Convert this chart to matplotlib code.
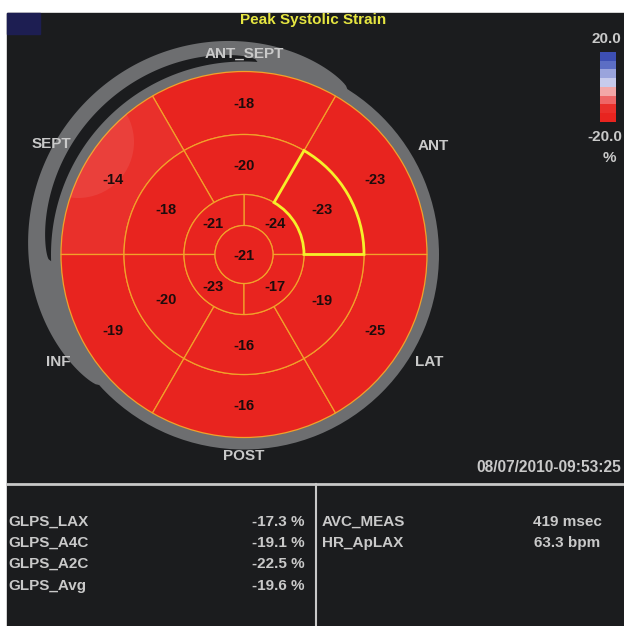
import numpy as np
import matplotlib.pyplot as plt
from matplotlib.patches import Wedge, Circle, Rectangle, Polygon
from matplotlib.colors import ListedColormap, BoundaryNorm

# peak systolic strain (%) per segment, segments counted ccw from 3 o'clock
basal = [-23, -18, -14, -19, -16, -25]
mid = [-23, -20, -18, -20, -16, -19]
apical = [-24, -21, -23, -17]
apex = -21
walls = ["ANT", "ANT_SEPT", "SEPT", "INF", "POST", "LAT"]

glps_names = ["GLPS_LAX", "GLPS_A4C", "GLPS_A2C", "GLPS_Avg"]
glps_values = [-17.3, -19.1, -22.5, -19.6]
meas_names = ["AVC_MEAS", "HR_ApLAX"]
meas_values = [419, 63.3]
meas_units = ["msec", "bpm"]

scale_colors = ["#e8241f", "#e9302b", "#ee6666", "#f3a7a7",
                "#c7cbec", "#9aa4dc", "#5c6ec4", "#3d4fb3"]
levels = np.arange(-20, 21, 5)

BG = "#1b1c1e"
GREY = "#6d6e70"
TXT = "#c9c9c9"
LINE = "#f2a12a"
FONT = "Liberation Sans"

cmap = ListedColormap(scale_colors)
norm = BoundaryNorm(levels, cmap.N, clip=True)

fig = plt.figure(figsize=(6.24, 6.26), dpi=100)
fig.patch.set_facecolor("white")
ax = fig.add_axes([0, 0, 1, 1])
ax.axis("off")

# dark screen area (white margin top / left)
ax.add_patch(Rectangle((7, 13), 700, 700, color=BG, zorder=0))
ax.add_patch(Rectangle((7, 13), 33, 21, color="#1d1e52", zorder=1))

cx, cy = 244, 254.5
r_apex, r_apical, r_mid, r_basal = 29, 60, 120, 183
r_ring = 195


def win(t, a, b, p=0.6):
    s = np.sin(np.pi * (t - a) / (b - a))
    s = np.where((t > a) & (t < b), np.clip(s, 0, 1), 0)
    return s ** p


def ring_poly(t, r_in, r_out, **kw):
    tr = np.radians(t)
    xo = cx + r_out * np.cos(tr)
    yo = cy - r_out * np.sin(tr)
    xi = cx + r_in * np.cos(tr[::-1])
    yi = cy - r_in * np.sin(tr[::-1])
    pts = np.column_stack([np.r_[xo, xi], np.r_[yo, yi]])
    return Polygon(pts, closed=True, **kw)


# grey outer rings (displaced double ring at upper left)
t = np.linspace(58, 222, 200)
ax.add_patch(ring_poly(t, r_basal, r_ring + 25 * win(t, 58, 222, 0.6), color=GREY, lw=0, zorder=2))
ax.add_patch(Wedge((cx, cy), r_ring, 0, 360, width=r_ring - r_basal + 2, color=GREY, lw=0, zorder=2))
t = np.linspace(86, 182, 150)
ax.add_patch(ring_poly(t, r_ring - 2, r_ring - 2 + 12 * win(t, 86, 182, 0.4), color=BG, lw=0, zorder=3))


def seg(vals, r_out, width, start, rmid):
    n = len(vals)
    step = 360 / n
    patches = []
    for i, v in enumerate(vals):
        a1 = start + i * step
        a2 = a1 + step
        w = Wedge((cx, cy), r_out, -a2, -a1, width=width, facecolor=cmap(norm(v)),
                  edgecolor=LINE, lw=0.9, zorder=4)
        ax.add_patch(w)
        patches.append(w)
        am = np.radians(a1 + step / 2)
        ax.text(cx + rmid * np.cos(am), cy - rmid * np.sin(am) + 1, str(v),
                ha="center", va="center", fontsize=10.5, fontweight="bold",
                color="#1e0c0c", family=FONT, zorder=7)
    return patches


basal_p = seg(basal, r_basal, r_basal - r_mid, 0, 151)
seg(mid, r_mid, r_mid - r_apical, 0, 90)
seg(apical, r_apical, r_apical - r_apex, 0, 44)
ax.add_patch(Circle((cx, cy), r_apex, facecolor=cmap(norm(apex)), edgecolor=LINE, lw=0.9, zorder=4))
ax.text(cx, cy + 1, str(apex), ha="center", va="center", fontsize=10.5,
        fontweight="bold", color="#1e0c0c", family=FONT, zorder=7)

# soft glare on septal segment
glare = Circle((78, 142), 56, color="white", alpha=0.08, lw=0, zorder=5)
ax.add_patch(glare)
glare.set_clip_path(basal_p[2])

# selected segment outline
ax.add_patch(Wedge((cx, cy), r_mid, -60, 0, width=r_mid - r_apical, fill=False,
                   edgecolor="#f6f02a", lw=2.0, zorder=6))

# wall labels
lab_r = [218, 201, 222, 214, 201, 214]
for i, name in enumerate(walls):
    a = np.radians(30 + 60 * i)
    ax.text(cx + lab_r[i] * np.cos(a), cy - lab_r[i] * np.sin(a), name,
            ha="center", va="center", fontsize=11, fontweight="bold",
            color=TXT, family=FONT, zorder=8)

ax.text(313, 20, "Peak Systolic Strain", ha="center", va="center", fontsize=11,
        fontweight="bold", color="#e6e641", family=FONT)

# colour scale
ax.imshow(np.arange(17.5, -20, -5)[:, None], cmap=cmap, norm=norm,
          extent=[600, 616, 122, 52], aspect="auto", interpolation="nearest", zorder=3)
ax.text(592, 39, "20.0", ha="left", va="center", fontsize=11, fontweight="bold", color=TXT, family=FONT)
ax.text(587, 137, "-20.0", ha="left", va="center", fontsize=11, fontweight="bold", color=TXT, family=FONT)
ax.text(609, 158, "%", ha="center", va="center", fontsize=11, fontweight="bold", color=TXT, family=FONT)

ax.text(476, 467, "08/07/2010-09:53:25", ha="left", va="center", fontsize=11.2,
        fontweight="bold", color=TXT, family=FONT)

# measurement table
ax.plot([7, 624], [484, 484], color="#c8c8c8", lw=2, zorder=3)
ax.plot([316, 316], [484, 626], color="#c8c8c8", lw=1.5, zorder=3)
rows = [522, 543, 564, 586]
for y, name, v in zip(rows, glps_names, glps_values):
    ax.text(8, y, name, ha="left", va="center", fontsize=11, fontweight="bold", color=TXT, family=FONT)
    ax.text(305, y, f"{v:.1f} %", ha="right", va="center", fontsize=11, fontweight="bold", color=TXT, family=FONT)
for y, name, v, u in zip(rows, meas_names, meas_values, meas_units):
    ax.text(322, y, name, ha="left", va="center", fontsize=11, fontweight="bold", color=TXT, family=FONT)
    ax.text(567, y, f"{v:g} {u}", ha="center", va="center", fontsize=11, fontweight="bold", color=TXT, family=FONT)

ax.set_xlim(0, 624)
ax.set_ylim(626, 0)
fig.savefig("out.png", dpi=100, facecolor=fig.get_facecolor())
